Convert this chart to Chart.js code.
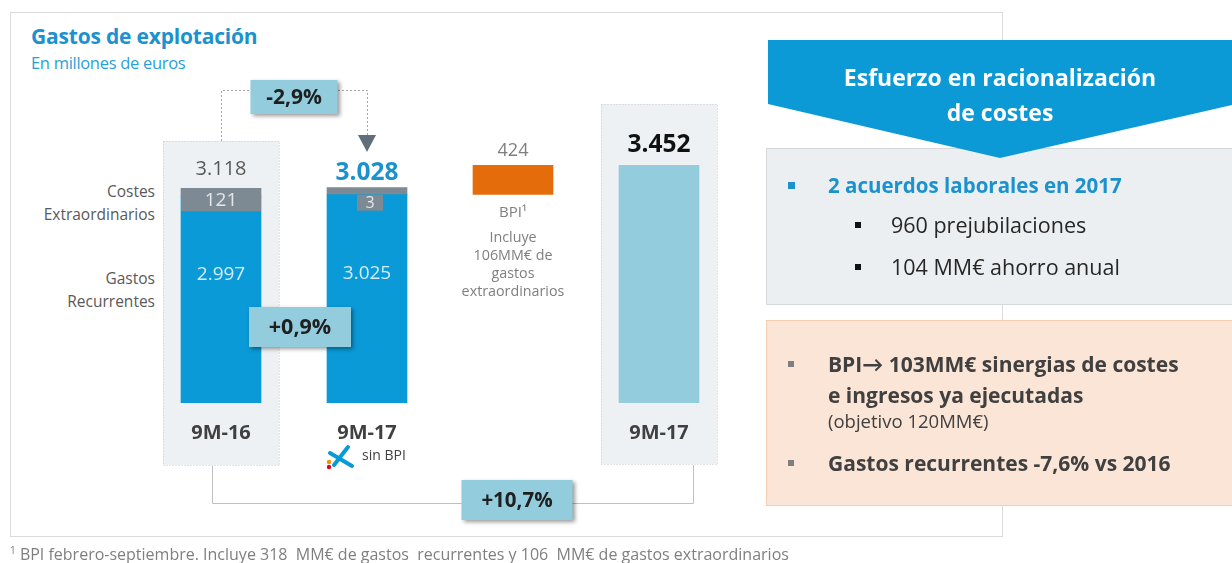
<!DOCTYPE html>
<html>
<head>
<meta charset="utf-8">
<script src="https://cdn.jsdelivr.net/npm/chart.js@4"></script>
<style>
  body { margin: 0; width: 1232px; height: 563px; position: relative; overflow: hidden; background: #fff; font-family: "Open Sans", Lato, sans-serif; }
  .abs { position: absolute; white-space: nowrap; }
  #panel { left: 10px; top: 12px; width: 991px; height: 523px; border: 1px solid #dadada; }
  #title { left: 31px; top: 22px; font-weight: bold; font-size: 21px; color: #1b92cd; letter-spacing: -0.2px; }
  #sub { left: 31px; top: 51px; font-size: 16.5px; color: #2a9fd6; letter-spacing: -0.3px; }
  canvas { position: absolute; left: 0; top: 0; }
  .side { right: 1077px; text-align: right; font-size: 15.5px; color: #595959; line-height: 23px; }
  #banner { left: 768px; top: 40px; width: 464px; height: 118px; background: #0b9ad6; z-index: 3;
    clip-path: polygon(0 0, 100% 0, 100% 65px, 232px 118px, 0 64px); }
  #bannerText { left: 768px; top: 60px; width: 464px; text-align: center; color: #fff; font-weight: bold; font-size: 23px; line-height: 35px; z-index: 4; }
  .box { left: 766px; width: 470px; z-index: 2; }
  #grey { top: 148px; height: 155px; background: #eceff1; border: 1px solid #d6d9dc; }
  #peach { top: 320px; height: 184px; background: #fbe5d6; border: 1px solid #f5cdb0; }
  .sq { width: 7px; height: 7px; z-index: 5; }
  .t { z-index: 5; line-height: 24px; }
  #foot { left: 10px; top: 543px; font-size: 16px; color: #7f7f7f; }
</style>
</head>
<body>
<div id="panel" class="abs"></div>
<div id="title" class="abs">Gastos de explotación</div>
<div id="sub" class="abs">En millones de euros</div>
<div class="abs side" style="top:180px">Costes<br>Extraordinarios</div>
<div class="abs side" style="top:267px">Gastos<br>Recurrentes</div>

<canvas id="c" width="1232" height="563"></canvas>

<div id="banner" class="abs"></div>
<div id="bannerText" class="abs">Esfuerzo en racionalización<br>de costes</div>
<div id="grey" class="abs box"></div>
<div id="peach" class="abs box"></div>

<div class="abs sq" style="left:788px;top:182px;background:#1b92cd"></div>
<div class="abs t" style="left:828px;top:173px;font-weight:bold;font-size:20.5px;color:#1b92cd">2 acuerdos laborales en 2017</div>
<div class="abs sq" style="left:855px;top:222px;width:6px;height:6px;background:#111"></div>
<div class="abs t" style="left:891px;top:213px;font-size:21.5px;color:#262626">960 prejubilaciones</div>
<div class="abs sq" style="left:855px;top:264px;width:6px;height:6px;background:#111"></div>
<div class="abs t" style="left:891px;top:255px;font-size:21.5px;color:#262626">104 MM€ ahorro anual</div>

<div class="abs sq" style="left:788px;top:361px;width:6px;height:6px;background:#7f7f7f"></div>
<div class="abs t" style="left:828px;top:352px;font-weight:bold;font-size:21px;color:#404040">BPI→ 103MM€ sinergias de costes</div>
<div class="abs t" style="left:828px;top:383px;font-weight:bold;font-size:21px;color:#404040">e ingresos ya ejecutadas</div>
<div class="abs t" style="left:828px;top:409px;font-size:18.5px;color:#404040">(objetivo 120MM€)</div>
<div class="abs sq" style="left:788px;top:460px;width:6px;height:6px;background:#7f7f7f"></div>
<div class="abs t" style="left:828px;top:451px;font-weight:bold;font-size:21px;color:#404040">Gastos recurrentes -7,6% vs 2016</div>

<div id="foot" class="abs"><sup style="font-size:10px">1</sup> BPI febrero-septiembre. Incluye 318&nbsp; MM€ de gastos&nbsp; recurrentes y 106&nbsp; MM€ de gastos extraordinarios</div>

<script>
// datos (millones de euros)
const categories = ['9M-16', '9M-17', 'BPI¹', '9M-17'];
const recurrentes = [2997, 3025, null, null];
const extraordinarios = [121, 3, null, null];
const bpi = [null, null, [3028, 3452], null];
const totalGrupo = [null, null, null, 3452];
const bpiNota = ['Incluye', '106MM€ de', 'gastos', 'extraordinarios'];
const variaciones = ['-2,9%', '+0,9%', '+10,7%'];

const FONT = '"Open Sans"';
const fmt = v => v.toLocaleString('de-DE');

function text(ctx, s, x, y, font, color) {
  ctx.font = font + ' ' + FONT;
  ctx.fillStyle = color;
  ctx.fillText(s, x, y);
}

function pctBox(ctx, s, cx, cy, w, h, size) {
  ctx.save();
  ctx.shadowColor = 'rgba(0,0,0,0.4)';
  ctx.shadowBlur = 4;
  ctx.shadowOffsetX = 2;
  ctx.shadowOffsetY = 2;
  ctx.fillStyle = '#93cddd';
  ctx.fillRect(cx - w / 2, cy - h / 2, w, h);
  ctx.restore();
  text(ctx, s, cx, cy + 1, 'bold ' + size + 'px', '#1f1f1f');
}

function drawLogo(ctx, x, y) {
  // estrella de la Caixa, simplificada
  ctx.save();
  ctx.strokeStyle = '#0a9ad7';
  ctx.lineCap = 'round';
  ctx.lineWidth = 4;
  ctx.beginPath();
  ctx.moveTo(x + 22, y + 1); ctx.lineTo(x + 8, y + 19);
  ctx.moveTo(x + 4, y + 7); ctx.lineTo(x + 26, y + 20);
  ctx.stroke();
  ctx.fillStyle = '#f39200';
  ctx.beginPath(); ctx.arc(x + 3, y + 16, 2.2, 0, Math.PI * 2); ctx.fill();
  ctx.fillStyle = '#e2001a';
  ctx.beginPath(); ctx.arc(x + 3, y + 21, 2.2, 0, Math.PI * 2); ctx.fill();
  ctx.restore();
}

const annot = {
  id: 'annot',
  beforeDatasetsDraw(chart) {
    const ctx = chart.ctx;
    const xs = categories.map((c, i) => chart.scales.x.getPixelForValue(i));
    ctx.save();
    // fondos de las columnas comparadas
    ctx.fillStyle = '#eef1f3';
    ctx.strokeStyle = '#c5cacd';
    ctx.lineWidth = 1;
    ctx.setLineDash([1, 2]);
    [[0, 141, 465], [3, 104, 464]].forEach(([i, top, bottom]) => {
      ctx.fillRect(xs[i] - 58, top, 116, bottom - top);
      ctx.strokeRect(xs[i] - 58 + 0.5, top + 0.5, 116, bottom - top);
    });
    // conector -2,9%
    const mid = (xs[0] + xs[1]) / 2;
    ctx.strokeStyle = '#a6a6a6';
    ctx.setLineDash([2, 2]);
    ctx.beginPath();
    ctx.moveTo(xs[0] + 0.5, 141); ctx.lineTo(xs[0] + 0.5, 90.5); ctx.lineTo(mid - 44, 90.5);
    ctx.moveTo(mid + 44, 90.5); ctx.lineTo(xs[1] + 0.5, 90.5); ctx.lineTo(xs[1] + 0.5, 136);
    ctx.stroke();
    ctx.setLineDash([]);
    ctx.fillStyle = '#5f6f7b';
    ctx.beginPath();
    ctx.moveTo(xs[1] - 9, 135); ctx.lineTo(xs[1] + 9, 135); ctx.lineTo(xs[1], 152);
    ctx.fill();
    // conector +10,7%
    ctx.strokeStyle = '#c0c0c0';
    ctx.beginPath();
    ctx.moveTo(xs[0] - 8.5, 466); ctx.lineTo(xs[0] - 8.5, 503.5);
    ctx.lineTo(xs[3] + 34.5, 503.5); ctx.lineTo(xs[3] + 34.5, 465);
    ctx.stroke();
    ctx.restore();
  },
  afterDatasetsDraw(chart) {
    const ctx = chart.ctx;
    const xs = categories.map((c, i) => chart.scales.x.getPixelForValue(i));
    const rec = chart.getDatasetMeta(0).data;
    const ext = chart.getDatasetMeta(1).data;
    const b = chart.getDatasetMeta(2).data[2];
    const tot = chart.getDatasetMeta(3).data[3];
    ctx.save();
    ctx.textAlign = 'center';
    ctx.textBaseline = 'middle';

    // costes extraordinarios
    ctx.fillStyle = '#7d8a94';
    ctx.fillRect(ext[0].x - 40, ext[0].y, 80, 23);
    text(ctx, fmt(extraordinarios[0]), ext[0].x, ext[0].y + 12, '19px', '#e6e6e6');
    ctx.fillStyle = '#7d8a94';
    ctx.fillRect(ext[1].x - 10, ext[1].base, 26, 16);
    text(ctx, fmt(extraordinarios[1]), ext[1].x + 3, ext[1].base + 8.5, '16px', '#e6e6e6');

    // gastos recurrentes
    [0, 1].forEach(i => {
      const r = rec[i];
      text(ctx, fmt(recurrentes[i]), r.x, (r.y + r.base) / 2 - 25, '19px', '#d3ecf9');
    });

    // totales
    text(ctx, fmt(recurrentes[0] + extraordinarios[0]), ext[0].x, ext[0].y - 19, '20px', '#595959');
    text(ctx, fmt(recurrentes[1] + extraordinarios[1]), ext[1].x, ext[1].y - 15, 'bold 24.5px', '#1b92cd');
    text(ctx, fmt(bpi[2][1] - bpi[2][0]), b.x, b.y - 14, '18px', '#7f7f7f');
    text(ctx, fmt(totalGrupo[3]), tot.x, tot.y - 20, 'bold 24.5px', '#111');

    // categorias
    [0, 1, 3].forEach(i => text(ctx, categories[i], xs[i], 433, 'bold 20px', '#404040'));
    text(ctx, categories[2], b.x, b.base + 18, '15px', '#7f7f7f');
    bpiNota.forEach((s, k) => text(ctx, s, b.x, b.base + 43 + k * 18, '14.3px', '#7f7f7f'));
    drawLogo(ctx, xs[1] - 41, 446);
    text(ctx, 'sin BPI', xs[1] + 17, 456, '14px', '#404040');

    // variaciones
    const mid = (xs[0] + xs[1]) / 2;
    pctBox(ctx, variaciones[0], mid, 97, 87, 34, 21);
    pctBox(ctx, variaciones[1], mid + 6, 327, 102, 40, 21.5);
    pctBox(ctx, variaciones[2], b.x + 4, 500, 111, 40, 20.5);
    ctx.restore();
  }
};

new Chart(document.getElementById('c'), {
  type: 'bar',
  data: {
    labels: categories,
    datasets: [
      { label: 'Gastos recurrentes', data: recurrentes, backgroundColor: '#0a9ad7' },
      { label: 'Costes extraordinarios', data: extraordinarios, backgroundColor: '#7d8a94', minBarLength: 7 },
      { label: 'BPI', data: bpi, backgroundColor: '#e46c0a' },
      { label: '9M-17', data: totalGrupo, backgroundColor: '#93cddd' }
    ]
  },
  options: {
    responsive: false,
    animation: false,
    events: [],
    layout: { padding: { left: 148, right: 500, top: 100, bottom: 160 } },
    datasets: { bar: { barThickness: 80, borderWidth: 0 } },
    scales: {
      x: { stacked: true, display: false },
      y: { stacked: true, display: false, min: 0, max: 4400 }
    },
    plugins: { legend: { display: false }, tooltip: { enabled: false } }
  },
  plugins: [annot]
});
</script>
</body>
</html>
